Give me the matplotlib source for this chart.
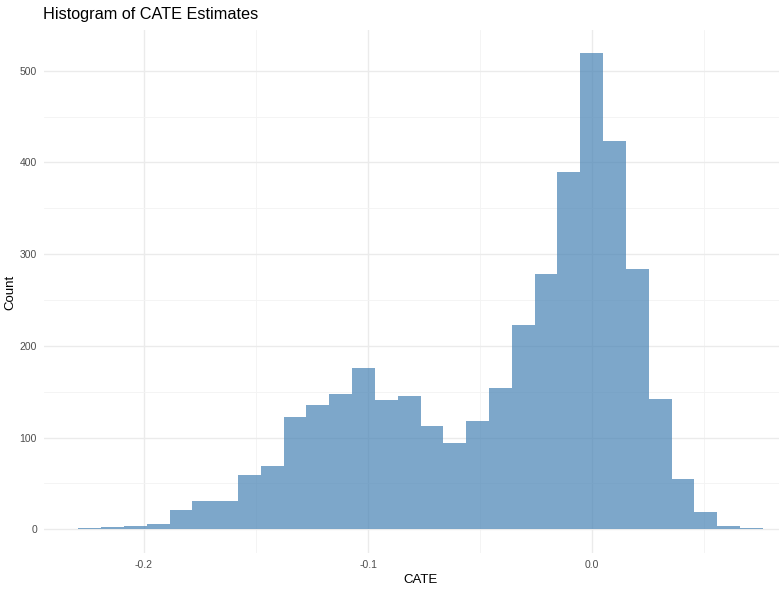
"""Histogram of CATE estimates, redrawn in the ggplot2 theme_minimal look."""

import matplotlib

matplotlib.use("Agg")

import matplotlib.pyplot as plt
import numpy as np
from matplotlib.ticker import FixedLocator

# bin layout (30 bins, ggplot default)
bin_start = -0.2293
bin_width = 0.01018
counts = [1, 2, 4, 6, 21, 31, 31, 59, 69, 122,
          135, 147, 176, 141, 145, 113, 94, 118, 154, 223,
          278, 390, 519, 423, 284, 142, 55, 19, 3, 1]

x_ticks = [-0.2, -0.1, 0.0]
x_tick_labels = ["-0.2", "-0.1", "0.0"]
x_minor = [-0.15, -0.05, 0.05]
y_ticks = [0, 100, 200, 300, 400, 500]
y_minor = [50, 150, 250, 350, 450, 550]

plt.rcParams["font.family"] = ["Liberation Sans", "DejaVu Sans"]

W, H = 779, 591
fig = plt.figure(figsize=(W / 100, H / 100), dpi=100)
# panel runs past the right edge, as in the cropped reference
ax = fig.add_axes([44 / W, 38 / H, (797 - 44) / W, (553 - 29.5) / H])

edges = bin_start + bin_width * np.arange(len(counts) + 1)
ax.bar(edges[:-1], counts, width=bin_width, align="edge",
       color="steelblue", alpha=0.7, linewidth=0, zorder=2)

x_range = edges[-1] - edges[0]
ax.set_xlim(edges[0] - 0.05 * x_range, edges[-1] + 0.05 * x_range)
ax.set_ylim(-0.05 * max(counts), 1.05 * max(counts))

ax.xaxis.set_major_locator(FixedLocator(x_ticks))
ax.set_xticklabels(x_tick_labels)
ax.xaxis.set_minor_locator(FixedLocator(x_minor))
ax.yaxis.set_major_locator(FixedLocator(y_ticks))
ax.yaxis.set_minor_locator(FixedLocator(y_minor))

ax.grid(which="major", color="#EBEBEB", linewidth=1.0, zorder=0)
ax.grid(which="minor", color="#F3F3F3", linewidth=0.6, zorder=0)
ax.set_axisbelow(True)
for spine in ax.spines.values():
    spine.set_visible(False)
ax.tick_params(which="both", length=0, labelsize=7.5, colors="#4D4D4D", pad=5)

ax.set_xlabel("CATE", fontsize=9.5, color="black", labelpad=3)
fig.text(10 / W, 1 - 292 / H, "Count", fontsize=9.5, rotation=90,
         ha="center", va="center", color="black")
fig.text(43 / W, 1 - 14 / H, "Histogram of CATE Estimates", fontsize=11.7,
         ha="left", va="center", color="black")

fig.savefig("out.png", dpi=100)
plt.close(fig)
